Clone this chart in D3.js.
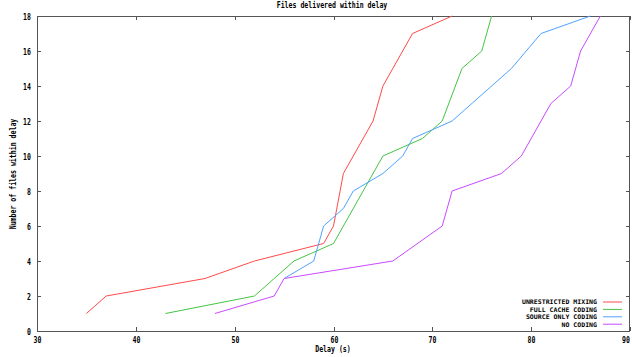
<!DOCTYPE html>
<html>
<head>
<meta charset="utf-8">
<script src="https://cdn.jsdelivr.net/npm/d3@7"></script>
<style>
  body { margin: 0; background: #fff; }
  text { font-family: "DejaVu Sans Mono", monospace; font-weight: bold; font-size: 8.5px; fill: #000; }
  .legend text { font-size: 6.3px; }
</style>
</head>
<body>
<svg id="chart" width="632" height="357"></svg>
<script>
// series: [delay (s), files delivered]
var unrestricted = [[35,1],[37,2],[47,3],[52,4],[59,5],[60,6],[61,9],[64,12],[65,14],[68,17],[72,18]];
var fullCache = [[43,1],[52,2],[56,4],[60,5],[65,10],[69,11],[71,12],[73,15],[75,16],[76,18]];
var sourceOnly = [[55,3],[58,4],[59,6],[61,7],[62,8],[65,9],[67,10],[68,11],[72,12],[78,15],[81,17],[86,18]];
var noCoding = [[48,1],[54,2],[55,3],[66,4],[71,6],[72,8],[77,9],[79,10],[82,13],[84,14],[85,16],[87,18]];

var seriesNames = ["UNRESTRICTED MIXING", "FULL CACHE CODING", "SOURCE ONLY CODING", "NO CODING"];
var seriesColors = ["#ff4a4a", "#44c444", "#4fa3ff", "#c94aff"];
var xTicks = [30, 40, 50, 60, 70, 80, 90];
var yTicks = [0, 2, 4, 6, 8, 10, 12, 14, 16, 18];

var allSeries = [unrestricted, fullCache, sourceOnly, noCoding];

var svg = d3.select("#chart");
var margin = {top: 16, right: 2, bottom: 26, left: 37};
var W = 632, H = 357;

var x = d3.scaleLinear().domain([30, 90]).range([margin.left, W - margin.right]);
var y = d3.scaleLinear().domain([0, 18]).range([H - margin.bottom, margin.top]);

// squeeze text to the narrow bitmap-font look (about 4px a char)
function label(sel, str) {
  sel.text(str)
    .attr("textLength", str.length * 3.95)
    .attr("lengthAdjust", "spacingAndGlyphs");
  return sel;
}

var x0 = x.range()[0], x1 = x.range()[1], y0 = y.range()[0], y1 = y.range()[1];
var tickLen = 4;

// ticks (inward, mirrored on top and right)
var ticks = svg.append("g").attr("stroke", "#555").attr("stroke-width", 1);
xTicks.forEach(function(t, i) {
  var px = Math.round(x(t)) + 0.5;
  ticks.append("line").attr("x1", px).attr("x2", px).attr("y1", y0).attr("y2", y0 - tickLen);
  ticks.append("line").attr("x1", px).attr("x2", px).attr("y1", y1).attr("y2", y1 + tickLen);
  var last = i == xTicks.length - 1;
  label(svg.append("text").attr("x", last ? W - 2 : px).attr("y", y0 + 12)
    .attr("text-anchor", last ? "end" : "middle"), String(t));
});
yTicks.forEach(function(t) {
  var py = Math.round(y(t)) + 0.5;
  ticks.append("line").attr("x1", x0).attr("x2", x0 + tickLen).attr("y1", py).attr("y2", py);
  ticks.append("line").attr("x1", x1).attr("x2", x1 - tickLen).attr("y1", py).attr("y2", py);
  label(svg.append("text").attr("x", x0 - 6).attr("y", py + 3).attr("text-anchor", "end"), String(t));
});

// border
svg.append("rect")
  .attr("x", Math.round(x0) + 0.5).attr("y", Math.round(y1) + 0.5)
  .attr("width", Math.round(x1 - x0) - 1).attr("height", Math.round(y0 - y1))
  .attr("fill", "none").attr("stroke", "#555");

// lines
var line = d3.line().x(function(d) { return x(d[0]); }).y(function(d) { return y(d[1]); });
allSeries.forEach(function(s, i) {
  svg.append("path").datum(s)
    .attr("d", line)
    .attr("fill", "none")
    .attr("stroke", seriesColors[i])
    .attr("stroke-width", 1);
});

// legend
var legend = svg.append("g").attr("class", "legend");
seriesNames.forEach(function(n, i) {
  var ly = 302 + i * 7.4;
  label(legend.append("text").attr("x", 597).attr("y", ly + 2.3).attr("text-anchor", "end"), n);
  legend.append("line").attr("x1", 603).attr("x2", 622).attr("y1", ly).attr("y2", ly)
    .attr("stroke", seriesColors[i]).attr("stroke-width", 1);
});

// titles
label(svg.append("text").attr("x", 332).attr("y", 8).attr("text-anchor", "middle"), "Files delivered within delay");
label(svg.append("text").attr("x", 333).attr("y", 352).attr("text-anchor", "middle"), "Delay (s)");
label(svg.append("text").attr("text-anchor", "middle")
  .attr("transform", "translate(16," + 174 + ") rotate(-90)"), "Number of files within delay");
</script>
</body>
</html>
